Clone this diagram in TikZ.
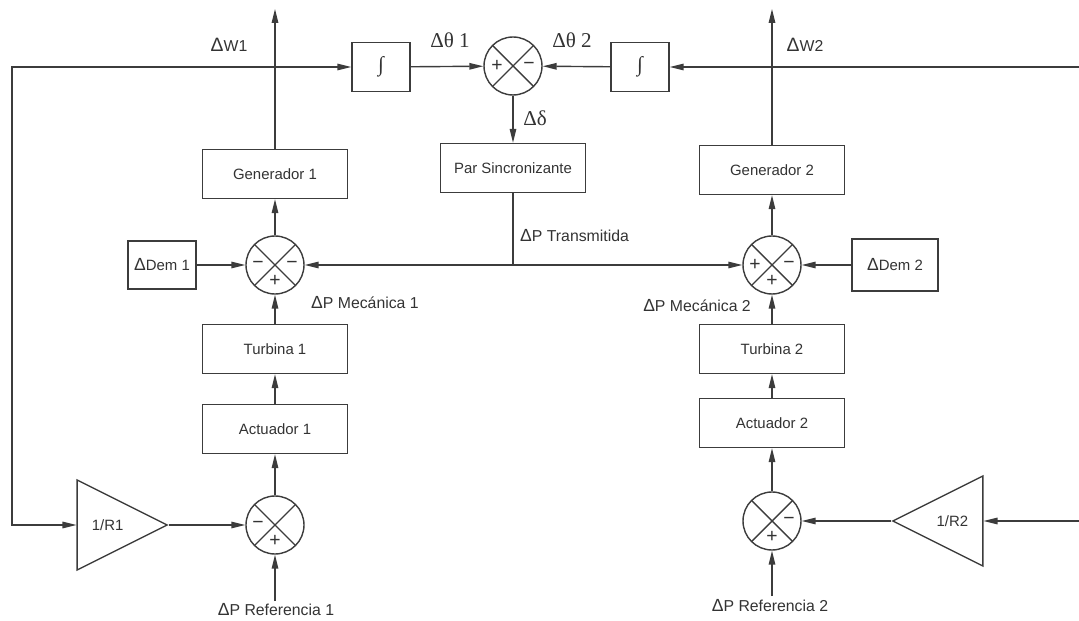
\documentclass[tikz,border=0pt]{standalone}
\usepackage{fontspec}
\setmainfont{Liberation Sans}
\newfontfamily\serifgr{Liberation Serif}
\usetikzlibrary{positioning,arrows.meta,shapes.geometric}
\definecolor{ink}{HTML}{333333}
\definecolor{linegray}{HTML}{3C3C3C}
\newcommand{\bigdelta}{{\fontsize{10}{10}\selectfont Δ}}

\begin{document}
\begin{tikzpicture}[x=0.02cm, y=-0.02cm, >={Triangle[length=2.8mm,width=1.3mm]},
    block/.style={draw=linegray, line width=0.8pt, minimum width=2.9cm, minimum height=0.98cm,
      font=\fontsize{8.5}{10}\selectfont, text=ink},
    intg/.style={block, minimum width=1.16cm, font=\serifgr\fontsize{12}{12}\selectfont},
    sum/.style={circle, draw=linegray, line width=0.8pt, minimum size=1.16cm, inner sep=0pt,
      path picture={\draw[linegray, line width=0.8pt]
        (path picture bounding box.north west) -- (path picture bounding box.south east)
        (path picture bounding box.north east) -- (path picture bounding box.south west);}},
    gain/.style={isosceles triangle, isosceles triangle stretches, draw=linegray, line width=0.8pt,
      minimum width=1.8cm, minimum height=1.8cm, inner sep=0pt, font=\fontsize{8.5}{10}\selectfont, text=ink},
    sgn/.style={font=\fontsize{11}{11}\selectfont, text=ink, inner sep=0pt},
    lbl/.style={font=\fontsize{9}{11}\selectfont, text=ink},
    glbl/.style={font=\serifgr\fontsize{12}{14}\selectfont, text=ink},
    conn/.style={->, draw=linegray, line width=0.8pt}]
  \useasboundingbox (0,0) rectangle (1079,621);

  % angle loop at the top
  \node[intg] (int1) at (381,67) {∫};
  \node[sum] (th) at (513,66) {};
  \node[intg] (int2) at (640,67) {∫};
  \node[block] (par) at (513,168) {Par Sincronizante};

  % area 1 (left) and area 2 (right)
  \node[block] (gen1) at (275,174) {Generador 1};
  \node[block] (gen2) at (772,170) {Generador 2};
  \node[block, minimum width=1.36cm, minimum height=0.96cm] (dem1) at (162,265) {\bigdelta Dem 1};
  \node[sum] (s1) at (275,265) {};
  \node[sum] (s2) at (772,265) {};
  \node[block, minimum width=1.72cm, minimum height=1.04cm] (dem2) at (895,265) {\bigdelta Dem 2};
  \node[block] (tur1) at (275,349) {Turbina 1};
  \node[block] (tur2) at (772,349) {Turbina 2};
  \node[block] (act1) at (275,429) {Actuador 1};
  \node[block] (act2) at (772,423) {Actuador 2};
  \node[sum] (s3) at (275,525) {};
  \node[sum] (s4) at (772,521) {};
  \node[gain, anchor=apex] (g1) at (169,525) {1/R1};
  \node[gain, shape border rotate=180, anchor=apex] (g2) at (891,521) {1/R2};

  % signs on the summing points
  \node[sgn] (th-l) at ([xshift=-0.32cm]th.center) {+};
  \node[sgn] (th-r) at ([xshift=0.32cm]th.center) {−};
  \node[sgn] (s1-l) at ([xshift=-0.34cm]s1.center) {−};
  \node[sgn] (s1-r) at ([xshift=0.34cm]s1.center) {−};
  \node[sgn] (s1-b) at ([yshift=-0.32cm]s1.center) {+};
  \node[sgn] (s2-l) at ([xshift=-0.34cm]s2.center) {+};
  \node[sgn] (s2-r) at ([xshift=0.34cm]s2.center) {−};
  \node[sgn] (s2-b) at ([yshift=-0.32cm]s2.center) {+};
  \node[sgn] (s3-l) at ([xshift=-0.34cm]s3.center) {−};
  \node[sgn] (s3-b) at ([yshift=-0.32cm]s3.center) {+};
  \node[sgn] (s4-r) at ([xshift=0.34cm]s4.center) {−};
  \node[sgn] (s4-b) at ([yshift=-0.32cm]s4.center) {+};

  % signal names
  \node[lbl] (w1) at (229,45) {{\fontsize{11}{11}\selectfont Δ}W1};
  \node[lbl] (w2) at (805,45) {{\fontsize{11}{11}\selectfont Δ}W2};
  \node[glbl] (t1) at (450,40) {Δθ 1};
  \node[glbl] (t2) at (572,40) {Δθ 2};
  \node[glbl] (dd) at (535,118) {Δδ};
  \node[lbl, anchor=west] (ptr) at (514,236) {\bigdelta P Transmitida};
  \node[lbl, anchor=west] (pm1) at (305,303) {\bigdelta P Mecánica 1};
  \node[lbl, anchor=east] (pm2) at (757,306) {\bigdelta P Mecánica 2};
  \node[lbl] (pr1) at (276,610) {\bigdelta P Referencia 1};
  \node[lbl] (pr2) at (770,606) {\bigdelta P Referencia 2};

  % free ends
  \coordinate (up1) at (275,9);
  \coordinate (up2) at (772,9);
  \coordinate (fbl) at (12,67);
  \coordinate (fbr) at (1079,67);
  \coordinate (inr) at (1079,521);
  \coordinate (rf1) at (275,601);
  \coordinate (rf2) at (772,596);
  \coordinate (jn) at (par.south |- s1.east);

  % connections
  \draw[conn] (gen1) -- (up1);
  \draw[conn] (gen2) -- (up2);
  \draw[conn, <->] (int1.west) -- (fbl) |- (g1.lower side);
  \draw[conn] (fbr) -- (int2);
  \draw[conn] (int1) -- (th);
  \draw[conn] (int2) -- (th);
  \draw[conn] (th) -- (par);
  \draw[linegray, line width=0.8pt] (par) -- (jn);
  \draw[conn] (jn) -- (s1);
  \draw[conn] (jn) -- (s2);
  \draw[conn] (dem1) -- (s1);
  \draw[conn] (dem2) -- (s2);
  \draw[conn] (s1) -- (gen1);
  \draw[conn] (s2) -- (gen2);
  \draw[conn] (tur1) -- (s1);
  \draw[conn] (tur2) -- (s2);
  \draw[conn] (act1) -- (tur1);
  \draw[conn] (act2) -- (tur2);
  \draw[conn] (s3) -- (act1);
  \draw[conn] (s4) -- (act2);
  \draw[conn] (g1.apex) -- (s3);
  \draw[conn] (g2.apex) -- (s4);
  \draw[conn] (inr) -- (g2.lower side);
  \draw[conn] (rf1) -- (s3);
  \draw[conn] (rf2) -- (s4);
\end{tikzpicture}
\end{document}
